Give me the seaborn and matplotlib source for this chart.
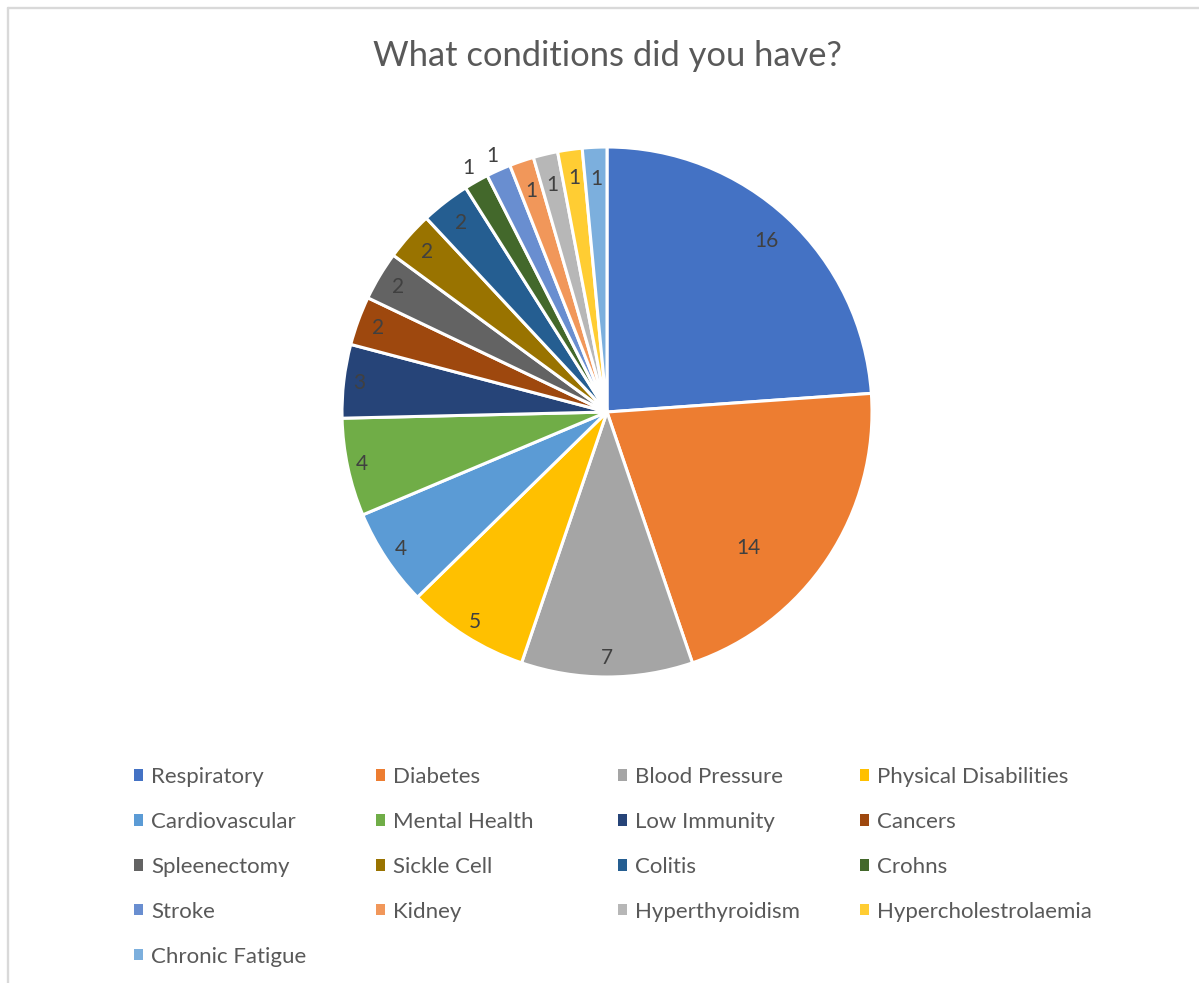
import matplotlib
matplotlib.use("Agg")
import matplotlib.pyplot as plt
from matplotlib.lines import Line2D
from matplotlib.patches import Patch
import numpy as np
import seaborn as sns

# Survey responses: conditions reported by respondents
conditions = [
    "Respiratory", "Diabetes", "Blood Pressure", "Physical Disabilities",
    "Cardiovascular", "Mental Health", "Low Immunity", "Cancers",
    "Spleenectomy", "Sickle Cell", "Colitis", "Crohns",
    "Stroke", "Kidney", "Hyperthyroidism", "Hypercholestrolaemia",
    "Chronic Fatigue",
]
counts = [16, 14, 7, 5, 4, 4, 3, 2, 2, 2, 2, 1, 1, 1, 1, 1, 1]
slice_colors = [
    "#4472C4", "#ED7D31", "#A5A5A5", "#FFC000",
    "#5B9BD5", "#70AD47", "#264478", "#9E480E",
    "#636363", "#997300", "#255E91", "#43682B",
    "#698ED0", "#F1975A", "#B7B7B7", "#FFCD33",
    "#7CAFDD",
]
chart_title = "What conditions did you have?"

# label placement inside each wedge: radial distance and position along the arc
label_radius = [0.88, 0.74, 0.93, 0.935, 0.936, 0.945, 0.94, 0.92, 0.92,
                0.91, 0.90, 1.06, 1.06, 0.88, 0.88, 0.89, 0.88]
label_arc_frac = [0.5, 0.636] + [0.5] * 15

sns.set_theme(style="white")
plt.rcParams["font.family"] = ["Lato", "DejaVu Sans"]

W, H = 1199, 983
fig = plt.figure(figsize=(W / 100, H / 100), dpi=100)
fig.patch.set_facecolor("white")

cx, cy, R = 607, 412, 265
ax = fig.add_axes([(cx - R) / W, (H - cy - R) / H, 2 * R / W, 2 * R / H])
palette = sns.color_palette(slice_colors)
wedges, _ = ax.pie(
    counts, colors=palette, startangle=90, counterclock=False, radius=1,
    wedgeprops=dict(edgecolor="white", linewidth=2.2),
)
ax.set_xlim(-1, 1)
ax.set_ylim(-1, 1)
ax.set_aspect("equal")
ax.axis("off")

for w, val, rr, f in zip(wedges, counts, label_radius, label_arc_frac):
    ang = np.deg2rad(w.theta2 - f * (w.theta2 - w.theta1))
    ax.text(rr * np.cos(ang), rr * np.sin(ang), str(val),
            ha="center", va="center", fontsize=15, color="#404040")

fig.text(cx / W, 1 - 56 / H, chart_title, ha="center", va="center",
         fontsize=24.8, color="#595959")

# legend laid out row by row in four evenly spaced columns
ncols = 4
col_x = [134, 376, 618, 860]
for c in range(ncols):
    idx = list(range(c, len(conditions), ncols))
    handles = [Patch(facecolor=palette[i], edgecolor="none") for i in idx]
    labels = [conditions[i] for i in idx]
    fig.legend(handles, labels, loc="upper left",
               bbox_to_anchor=(col_x[c] / W, 1 - 767 / H),
               frameon=False, fontsize=16, labelcolor="#595959",
               handlelength=0.42, handleheight=0.42, handletextpad=0.36,
               labelspacing=1.12, borderpad=0, borderaxespad=0)

# chart area outline
border = "#D9D9D9"
fig.add_artist(Line2D([8 / W, 8 / W], [0, 1 - 8 / H], transform=fig.transFigure,
                      color=border, lw=1.7))
fig.add_artist(Line2D([8 / W, 1], [1 - 8 / H, 1 - 8 / H], transform=fig.transFigure,
                      color=border, lw=1.7))

fig.savefig("out.png", dpi=100, facecolor="white")
